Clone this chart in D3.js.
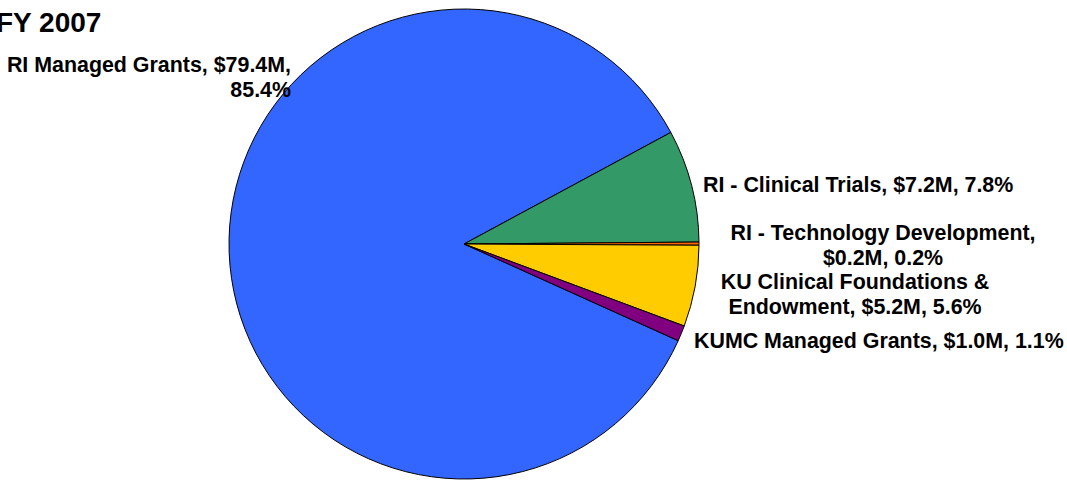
<!DOCTYPE html>
<html>
<head>
<meta charset="utf-8">
<script src="https://cdn.jsdelivr.net/npm/d3@7"></script>
<style>
  body { margin: 0; background: #fff; }
  svg text { font-family: "Liberation Sans", Arial, sans-serif; font-weight: bold; fill: #000; }
</style>
</head>
<body>
<div id="chart"></div>
<script>
// slices, in the order Excel drew them (clockwise)
const categories = ["RI Managed Grants", "RI - Clinical Trials", "RI - Technology Development",
    "KU Clinical Foundations & Endowment", "KUMC Managed Grants"]
const amounts = [79.4, 7.2, 0.2, 5.2, 1.0]   // $M
const percents = ["85.4%", "7.8%", "0.2%", "5.6%", "1.1%"]
const colors = ["#3366FF", "#339966", "#FF6600", "#FFCC00", "#800080"]

// label lines (broken the way the original wraps them)
const labelLines = [
    ["RI Managed Grants, $79.4M,", "85.4%"],
    ["RI - Clinical Trials, $7.2M, 7.8%"],
    ["RI - Technology Development,", "$0.2M, 0.2%"],
    ["KU Clinical Foundations &", "Endowment, $5.2M, 5.6%"],
    ["KUMC Managed Grants, $1.0M, 1.1%"]
]

const width = 1067
const height = 480
const cx = 464, cy = 244, radius = 235

const svg = d3.select("#chart").append("svg")
    .attr("width", width)
    .attr("height", height)

svg.append("text")
    .attr("x", -4)
    .attr("y", 32)
    .attr("font-size", 28)
    .text("FY 2007")

const start = 114.3 * Math.PI / 180
const pie = d3.pie().sort(null).value(d => d).startAngle(start).endAngle(start + 2 * Math.PI)
const arc = d3.arc().innerRadius(0).outerRadius(radius)

const data = pie(amounts)

const g = svg.append("g").attr("transform", `translate(${cx},${cy})`)
g.selectAll("path.slice")
    .data(data).enter().append("path")
    .attr("class", "slice")
    .attr("d", arc)
    .attr("fill", (d, i) => colors[i])
    .attr("stroke", "#000")
    .attr("stroke-width", 1)
    .attr("stroke-linejoin", "round")

// label anchors, placed as in the original
const labelPos = [
    {x: 291, y: 72, anchor: "end"},
    {x: 703, y: 192, anchor: "start"},
    {x: 883, y: 240, anchor: "middle"},
    {x: 855, y: 289, anchor: "middle"},
    {x: 694, y: 348, anchor: "start"}
]

labelLines.forEach((lines, i) => {
    const p = labelPos[i]
    const t = svg.append("text")
        .attr("x", p.x)
        .attr("y", p.y)
        .attr("font-size", 21.4)
        .attr("text-anchor", p.anchor)
    lines.forEach((ln, j) => {
        t.append("tspan")
            .attr("x", p.x)
            .attr("dy", j === 0 ? 0 : 24.5)
            .text(ln)
    })
})
</script>
</body>
</html>
